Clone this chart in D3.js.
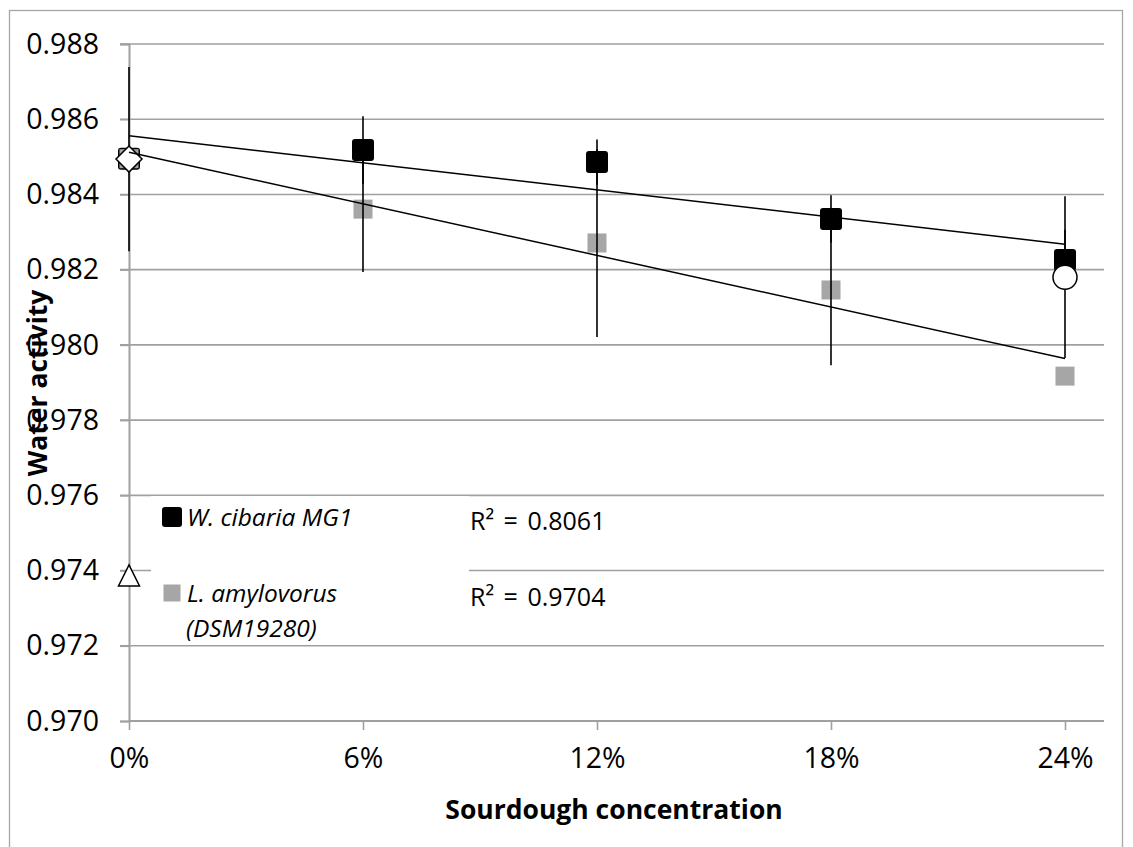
<!DOCTYPE html>
<html>
<head>
<meta charset="utf-8">
<script src="https://cdn.jsdelivr.net/npm/d3@7"></script>
<style>
  html, body { margin: 0; padding: 0; background: #fff; }
  svg { display: block; font-family: "Open Sans", "Liberation Sans", sans-serif; }
</style>
</head>
<body>
<svg id="chart" width="1133" height="847"></svg>
<script>
// Sourdough concentration levels (fraction of flour)
const concentrations = [0, 0.06, 0.12, 0.18, 0.24];
const xTickLabels = ["0%", "6%", "12%", "18%", "24%"];
const yTicks = [0.970, 0.972, 0.974, 0.976, 0.978, 0.980, 0.982, 0.984, 0.986, 0.988];

// Water activity, W. cibaria MG1 sourdough
const cibariaValues = [0.98495, 0.98518, 0.98486, 0.98335, 0.98226];
const cibariaErrors = [0, 0.0009, 0.0006, 0.00063, 0.0008];

// Water activity, L. amylovorus (DSM19280) sourdough
const amylovorusValues = [0.98495, 0.98361, 0.98271, 0.98146, 0.97917];
const amylovorusErrors = [0, 0.00167, 0.0025, 0.002, 0];

// Reference samples (open markers)
const controlPoints = [{ x: 0, y: 0.98494, err: 0.00245 }];
const circlePoints = [{ x: 0.24, y: 0.9818, err: 0.00215 }];
const trianglePoints = [{ x: 0, y: 0.97383, err: 0 }];

const r2Labels = ["R\u00b2 = 0.8061", "R\u00b2 = 0.9704"];

const svg = d3.select("#chart");
const x = d3.scaleLinear().domain([0, 0.25]).range([129, 1104]);
const y = d3.scaleLinear().domain([0.970, 0.988]).range([721, 44]);

const GRID = "#a0a0a0";

// outer chart frame
svg.append("rect")
  .attr("x", 9.5).attr("y", 10.5).attr("width", 1113).attr("height", 850)
  .attr("fill", "none").attr("stroke", "#a6a6a6").attr("stroke-width", 1.3);

// horizontal gridlines
svg.append("g").selectAll("line")
  .data(yTicks.slice(1))
  .join("line")
  .attr("x1", 120).attr("x2", 1104)
  .attr("y1", d => y(d)).attr("y2", d => y(d))
  .attr("stroke", GRID).attr("stroke-width", 1.6);

// y axis
const yAxis = svg.append("g")
  .attr("transform", "translate(129,0)")
  .call(d3.axisLeft(y).tickValues(yTicks).tickFormat(d3.format(".3f")).tickSize(9).tickPadding(21));
yAxis.select(".domain").attr("stroke", GRID).attr("stroke-width", 2);
yAxis.selectAll(".tick line").attr("stroke", GRID).attr("stroke-width", 1.6);
yAxis.selectAll("text").attr("font-size", 28.5).attr("fill", "#000")
  .attr("font-family", "'Open Sans', sans-serif");

// x axis
const xAxis = svg.append("g")
  .attr("transform", "translate(0,721)")
  .call(d3.axisBottom(x).tickValues(concentrations)
    .tickFormat((d, i) => xTickLabels[i]).tickSize(9).tickPadding(18));
xAxis.select(".domain").attr("stroke", GRID).attr("stroke-width", 2)
  .attr("d", "M129,0H1104");
xAxis.selectAll(".tick line").attr("stroke", GRID).attr("stroke-width", 1.6);
xAxis.selectAll("text").attr("font-size", 28.5).attr("fill", "#000")
  .attr("font-family", "'Open Sans', sans-serif");

// axis titles
svg.append("text")
  .attr("x", 614).attr("y", 819)
  .attr("text-anchor", "middle")
  .attr("font-size", 26.5).attr("font-weight", "bold")
  .text("Sourdough concentration");
svg.append("text")
  .attr("transform", "translate(47,383) rotate(-90)")
  .attr("text-anchor", "middle")
  .attr("font-size", 26.5).attr("font-weight", "bold")
  .text("Water activity");

// legend background covers gridlines
svg.append("rect")
  .attr("x", 151).attr("y", 496).attr("width", 318).attr("height", 148)
  .attr("fill", "#fff");

// series markers
const cibaria = concentrations.map((c, i) => ({ x: c, y: cibariaValues[i], err: cibariaErrors[i] }));
const amylovorus = concentrations.map((c, i) => ({ x: c, y: amylovorusValues[i], err: amylovorusErrors[i] }));

svg.append("g").selectAll("rect")
  .data(cibaria).join("rect")
  .attr("x", d => x(d.x) - 11).attr("y", d => y(d.y) - 11)
  .attr("width", 22).attr("height", 22).attr("rx", 3)
  .attr("fill", "#000");

svg.append("g").selectAll("rect")
  .data(amylovorus).join("rect")
  .attr("x", d => x(d.x) - 9.5).attr("y", d => y(d.y) - 9.5)
  .attr("width", 19).attr("height", 19)
  .attr("fill", "#a6a6a6");

// error bars (no caps)
function errorBars(data) {
  svg.append("g").selectAll("line")
    .data(data.filter(d => d.err > 0)).join("line")
    .attr("x1", d => x(d.x)).attr("x2", d => x(d.x))
    .attr("y1", d => y(d.y + d.err)).attr("y2", d => y(d.y - d.err))
    .attr("stroke", "#000").attr("stroke-width", 1.6);
}
errorBars(cibaria);
errorBars(amylovorus);
errorBars(controlPoints);
errorBars(circlePoints);
errorBars(trianglePoints);

// open markers
svg.append("g").selectAll("path")
  .data(controlPoints).join("path")
  .attr("transform", d => `translate(${x(d.x)},${y(d.y)})`)
  .attr("d", "M0,-13L13,0L0,13L-13,0Z")
  .attr("fill", "#fff").attr("stroke", "#000").attr("stroke-width", 1.5);

svg.append("g").selectAll("circle")
  .data(circlePoints).join("circle")
  .attr("cx", d => x(d.x)).attr("cy", d => y(d.y)).attr("r", 12)
  .attr("fill", "#fff").attr("stroke", "#000").attr("stroke-width", 1.5);

svg.append("g").selectAll("path")
  .data(trianglePoints).join("path")
  .attr("transform", d => `translate(${x(d.x)},${y(d.y)})`)
  .attr("d", "M0,-12L10.5,9L-10.5,9Z")
  .attr("fill", "#fff").attr("stroke", "#000").attr("stroke-width", 1.5);

// least-squares linear trend lines
function trend(data) {
  const mx = d3.mean(data, d => d.x), my = d3.mean(data, d => d.y);
  const slope = d3.sum(data, d => (d.x - mx) * (d.y - my)) / d3.sum(data, d => (d.x - mx) ** 2);
  const x0 = d3.min(data, d => d.x), x1 = d3.max(data, d => d.x);
  return [[x0, my + slope * (x0 - mx)], [x1, my + slope * (x1 - mx)]];
}
const line = d3.line().x(d => x(d[0])).y(d => y(d[1]));
[cibaria, amylovorus].forEach(s => {
  svg.append("path")
    .attr("d", line(trend(s)))
    .attr("fill", "none").attr("stroke", "#000").attr("stroke-width", 1.5);
});

// legend
const legend = [
  { label: ["W. cibaria MG1"], color: "#000", size: 20, rx: 3, y: 517 },
  { label: ["L. amylovorus", "(DSM19280)"], color: "#a6a6a6", size: 17, rx: 0, y: 593 }
];
legend.forEach(item => {
  svg.append("rect")
    .attr("x", 172 - item.size / 2).attr("y", item.y - item.size / 2)
    .attr("width", item.size).attr("height", item.size).attr("rx", item.rx)
    .attr("fill", item.color);
  const t = svg.append("text")
    .attr("x", 187).attr("y", item.y + 9)
    .attr("font-size", 24.5).attr("font-style", "italic");
  item.label.forEach((s, i) => {
    t.append("tspan").attr("x", i === 0 ? 187 : 186).attr("dy", i === 0 ? 0 : 35).text(s);
  });
});

// R-squared labels
r2Labels.forEach((s, i) => {
  svg.append("text")
    .attr("x", 470).attr("y", 530 + i * 76)
    .attr("font-size", 25).attr("word-spacing", 3)
    .text(s);
});
</script>
</body>
</html>
